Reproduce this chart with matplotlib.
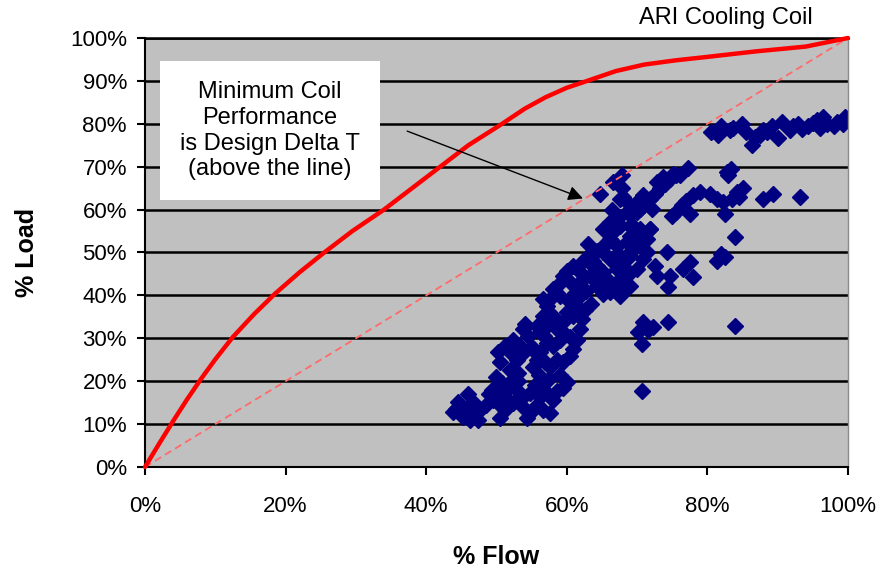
import matplotlib
matplotlib.use('Agg')
import matplotlib.pyplot as plt
from matplotlib.patches import Rectangle
from matplotlib.ticker import FuncFormatter

plt.rcParams['font.family'] = ['Liberation Sans', 'DejaVu Sans']

# ARI cooling coil curve (% flow vs % load)
curve_flow = [0, 2, 4, 6, 8, 10, 12.5, 15.5, 18.5, 22, 25.5, 29.5, 34, 38, 42, 46,
              50.8, 54, 57, 60, 62.9, 67, 71, 75.5, 80, 87, 94, 100]
curve_load = [0, 5.4, 10.7, 15.8, 20.6, 25.1, 30.3, 35.6, 40.4, 45.4, 50, 55, 60, 65, 70, 75,
              80, 83.5, 86.2, 88.4, 90, 92.3, 93.8, 94.8, 95.6, 96.9, 98, 100]

# design delta T line
diag_flow = [0, 100]
diag_load = [0, 100]

meas_flow = [
    43.8, 45.2, 46.2, 45.1, 46.0, 46.7, 47.2, 44.5, 47.4, 44.3, 46.5,
    50.5, 50.8, 49.4, 50.0, 50.5, 50.2, 51.2, 51.9, 52.9, 52.3, 53.3, 53.8, 54.0, 51.9,
    52.3, 51.5, 52.9, 53.8, 54.8, 53.8, 54.8, 54.3, 55.8, 56.6, 57.6, 56.2, 57.2, 58.6,
    59.5, 60.0, 49.5, 52.3, 51.2, 50.8, 53.0, 55.5, 56.5, 58.0, 49.0, 51.0,
    55.2, 55.8, 56.2, 56.9, 57.6, 58.6, 59.5, 60.5, 60.9, 61.5, 61.9, 62.2, 60.5, 59.0,
    58.0, 57.2, 56.2, 55.8, 57.2, 58.6, 59.5, 58.0, 56.6, 57.2, 57.6, 56.6, 58.0, 59.0,
    58.6, 59.5, 60.0, 60.9, 60.5, 61.5, 62.3, 60.5, 60.0, 61.5, 60.9, 54.5, 55.0, 57.5,
    59.0, 56.0,
    62.3, 63.3, 64.3, 65.2, 63.7, 64.7, 63.3, 64.3, 65.7, 67.1, 66.4, 67.6, 68.0, 68.6,
    69.0, 67.6, 66.1, 65.2, 69.0, 70.0, 69.4, 68.6, 67.1, 66.6, 67.6, 66.1, 65.2, 69.0,
    70.4, 70.8, 71.4, 70.0, 61.9, 67.1, 68.0, 64.7, 69.0, 70.4, 71.4, 74.2, 69.0, 66.1,
    64.3, 65.2, 68.0, 66.6, 67.1, 71.8, 69.4, 66.1, 65.2, 63.0, 62.0, 63.5,
    64.7, 66.6, 67.9, 67.9, 68.0, 67.6, 69.0, 69.4, 70.4, 70.4, 70.8, 71.8, 71.0, 72.5,
    72.8, 73.3, 73.7, 74.0, 74.7, 75.1, 75.6, 76.1, 77.2, 72.1, 70.0, 68.6, 67.1, 66.5,
    82.8, 83.0, 84.2, 85.0, 83.5, 82.2, 82.5, 87.9, 89.3, 93.2, 79.0, 78.0, 77.0, 76.4,
    75.6, 75.0, 77.5, 80.4, 81.3, 84.5, 83.3,
    83.9, 82.0, 81.3, 82.5, 77.5, 76.5, 78.0, 74.7, 74.4, 72.5, 72.8, 71.8, 71.1, 70.8,
    72.3, 74.4, 83.9, 70.7, 70.7, 71.5, 70.2,
    81.5, 83.2, 84.9, 86.3, 86.8, 87.9, 89.2, 90.0, 90.6, 91.7, 92.9, 94.3, 95.6, 96.0,
    97.0, 98.4, 99.6, 99.3, 83.6, 87.5, 92.2, 93.5, 95.0, 96.5, 98.0, 85.5, 88.5, 80.5,
    82.0,
    53.5, 55.0, 56.8, 59.8, 61.2, 62.8, 63.8, 65.8, 62.6, 61.0, 53.0, 50.3, 48.5, 45.8,
]
meas_load = [
    12.9, 11.7, 11.0, 14.0, 16.9, 15.2, 12.6, 15.2, 11.0, 13.5, 13.0,
    11.5, 14.0, 18.0, 21.0, 24.4, 26.7, 28.1, 26.7, 25.0, 29.7, 28.1, 32.1, 33.3, 22.7,
    20.4, 18.0, 18.0, 16.4, 17.3, 14.0, 12.6, 11.5, 14.5, 13.3, 12.6, 16.4, 17.3, 17.6,
    18.5, 19.7, 15.7, 15.0, 13.3, 19.5, 22.0, 19.0, 18.5, 15.5, 17.0, 16.5,
    23.4, 25.0, 26.7, 24.4, 23.2, 25.0, 24.4, 25.8, 27.4, 29.7, 32.1, 34.4, 30.4, 29.7,
    28.1, 29.0, 31.4, 32.8, 32.8, 32.1, 33.7, 35.1, 35.1, 37.5, 39.1, 39.1, 41.5, 39.8,
    42.2, 44.5, 45.7, 46.8, 43.1, 42.2, 43.8, 38.4, 36.1, 37.5, 35.1, 30.5, 28.0, 20.5,
    21.5, 21.5,
    48.0, 49.6, 50.4, 50.1, 46.8, 45.4, 44.5, 42.2, 43.8, 46.1, 48.5, 49.2, 46.8, 44.5,
    42.2, 39.8, 40.7, 40.3, 50.1, 51.5, 53.2, 52.5, 51.5, 54.8, 56.2, 57.1, 55.5, 56.2,
    55.5, 48.5, 53.2, 46.1, 45.4, 43.1, 40.7, 41.5, 53.9, 51.5, 50.1, 50.1, 49.2, 48.5,
    46.8, 45.4, 46.1, 55.5, 57.1, 55.5, 56.2, 53.2, 51.5, 52.0, 40.0, 38.0,
    63.7, 66.5, 68.0, 65.0, 63.0, 62.5, 61.0, 59.5, 60.2, 62.5, 63.3, 62.5, 61.0, 63.7,
    66.5, 65.0, 67.7, 66.0, 67.2, 68.4, 68.0, 68.0, 69.6, 60.2, 59.5, 59.5, 57.8, 60.0,
    68.8, 68.0, 64.2, 65.0, 62.5, 61.8, 59.0, 62.5, 63.7, 63.0, 64.2, 63.3, 62.0, 61.0,
    59.5, 58.6, 59.0, 63.7, 62.5, 63.0, 69.5,
    53.6, 49.6, 48.0, 49.0, 47.8, 46.1, 44.3, 44.5, 41.9, 46.8, 44.5, 55.5, 53.2, 33.7,
    32.6, 33.7, 32.8, 28.6, 17.6, 32.0, 31.5,
    77.3, 78.5, 80.0, 75.0, 77.0, 78.5, 79.4, 76.6, 80.5, 78.5, 80.0, 79.4, 80.8, 79.0,
    80.0, 80.5, 81.7, 80.0, 79.0, 77.3, 79.5, 78.8, 80.2, 81.5, 79.5, 78.0, 78.0, 78.0,
    79.5,
    26.0, 27.5, 30.5, 31.0, 40.5, 41.0, 48.0, 52.5, 36.5, 39.0, 20.0, 16.8, 14.5, 12.0,
]

yticks = list(range(0, 101, 10))
xticks = list(range(0, 101, 20))

fig = plt.figure(figsize=(8.81, 5.69), dpi=100)
ax = fig.add_axes([0.1646, 0.1793, 0.7979, 0.7539])
ax.set_facecolor('#c0c0c0')

ax.set_xlim(0, 100)
ax.set_ylim(0, 100)
ax.set_yticks(yticks)
ax.set_xticks(xticks)
pct = FuncFormatter(lambda v, p: f'{v:.0f}%')
ax.xaxis.set_major_formatter(pct)
ax.yaxis.set_major_formatter(pct)

ax.yaxis.grid(True, color='black', linewidth=1.8)
ax.set_axisbelow(True)

ax.plot(meas_flow, meas_load, linestyle='none', marker='D', markersize=8.2,
        color='#000080', markeredgecolor='#000080', zorder=2)
ax.plot(diag_flow, diag_load, color='#ff6a6a', linewidth=1.3,
        linestyle=(0, (4, 2.5)), zorder=3)
ax.plot(curve_flow, curve_load, color='#ff0000', linewidth=3.2, zorder=4,
        solid_capstyle='round', solid_joinstyle='round', clip_on=False)

# note box with arrow
ax.add_patch(Rectangle((2.1, 62.3), 31.3, 32.3, facecolor='white',
                       edgecolor='none', zorder=5))
ax.text(17.75, 78.4, 'Minimum Coil\nPerformance\nis Design Delta T\n(above the line)',
        ha='center', va='center', fontsize=17, linespacing=1.22, zorder=6)
ax.annotate('', xy=(62.3, 62.6), xytext=(37.3, 78.3),
            arrowprops=dict(arrowstyle='-|>', color='black', lw=1.0,
                            mutation_scale=22, shrinkA=0, shrinkB=0), zorder=6)

for s in ['left', 'bottom']:
    ax.spines[s].set_color('black')
    ax.spines[s].set_linewidth(1.5)
ax.spines['top'].set_color('black')
ax.spines['top'].set_linewidth(1.8)
ax.spines['right'].set_color('#8c8c8c')
ax.spines['right'].set_linewidth(1.0)

ax.tick_params(axis='both', direction='out', length=6, width=1.5,
               labelsize=16, colors='black')
ax.tick_params(axis='x', pad=15)
ax.tick_params(axis='y', pad=7)
ax.tick_params(axis='x', which='both', top=False)
ax.tick_params(axis='y', which='both', right=False)

ax.set_xlabel('% Flow', fontsize=18, fontweight='bold', labelpad=20)
ax.set_ylabel('% Load', fontsize=18, fontweight='bold', labelpad=22)

fig.text(726 / 881, 1 - 18 / 569, 'ARI Cooling Coil', ha='center', va='center',
         fontsize=17)

fig.savefig('out.png', dpi=100)
